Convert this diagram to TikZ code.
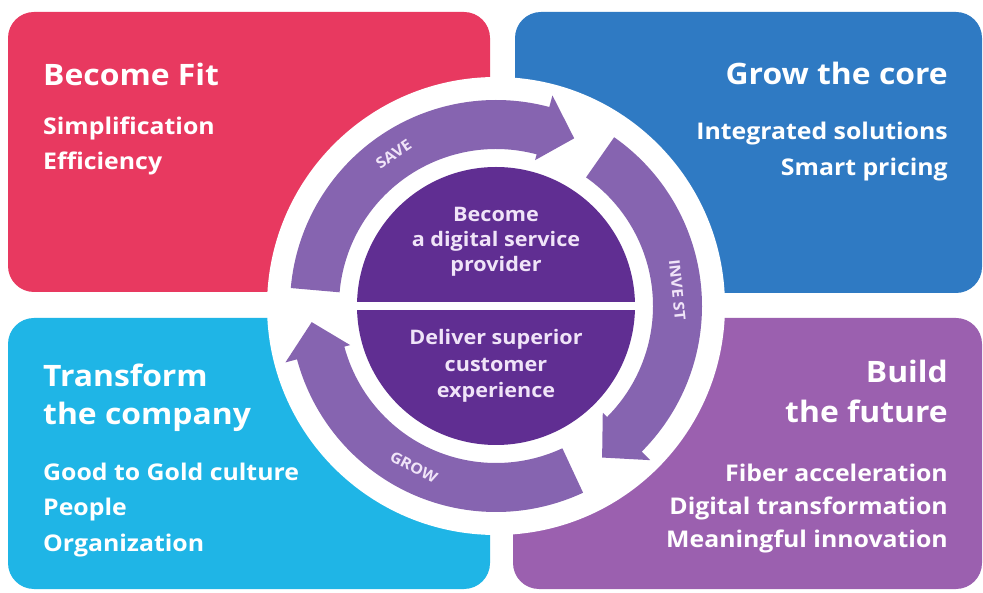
\documentclass[tikz,border=0pt]{standalone}
\usepackage{fontspec}
\setmainfont{Open Sans}[FakeStretch=1.08]
\definecolor{cred}{RGB}{232,57,96}
\definecolor{cblue}{RGB}{47,122,195}
\definecolor{ccyan}{RGB}{31,181,230}
\definecolor{cpurp}{RGB}{155,96,175}
\definecolor{carrow}{RGB}{134,100,176}
\definecolor{cdisc}{RGB}{96,46,146}
\definecolor{ctext}{RGB}{240,228,248}
\begin{document}
\begin{tikzpicture}[x=1pt,y=1pt,
  title/.style={font=\fontsize{29.5}{36}\selectfont\bfseries, text=white, inner sep=0pt},
  item/.style={font=\fontsize{23}{28}\selectfont\bfseries, text=white, inner sep=0pt},
  ctr/.style={font=\fontsize{20}{24}\selectfont\bfseries, text=ctext, inner sep=0pt, anchor=base},
  lbl/.style={font=\fontsize{15}{17}\selectfont\bfseries, text=ctext, inner sep=0pt},
  ring/.style={fill=carrow}]
\useasboundingbox (0,0) rectangle (983,592);
\fill[white] (0,0) rectangle (983,592);
% boxes
\fill[cred, rounded corners=26pt] (8,300) rectangle (490,580);
\fill[cblue, rounded corners=26pt] (515,299) rectangle (982,580);
\fill[ccyan, rounded corners=26pt] (8,3) rectangle (490,274);
\fill[cpurp, rounded corners=26pt] (513,3) rectangle (982,274);
% white circle and disc
\fill[white] (496,286) circle[radius=229];
\fill[cdisc] (496,286) circle[radius=139];
\fill[white] (352,282) rectangle (640,290);
% ring arrows
\begin{scope}[shift={(496,286)}]
\fill[ring] (175:206) arc[start angle=175,end angle=75,radius=206] -- (75:218) -- (65:185) -- (75:151) -- (75:157) arc[start angle=75,end angle=175,radius=157] -- cycle;
\fill[ring] (55:206) arc[start angle=55,end angle=-45,radius=206] -- (-45:218) -- (-55:185) -- (-45:151) -- (-45:157) arc[start angle=-45,end angle=55,radius=157] -- cycle;
\fill[ring] (-65:206) arc[start angle=-65,end angle=-165,radius=206] -- (-165:218) -- (-175:185) -- (-165:151) -- (-165:157) arc[start angle=-165,end angle=-65,radius=157] -- cycle;
\node[lbl, rotate=34] (save) at (124:183) {SAVE};
\node[lbl, rotate=-84] (invest) at (5:182) {INVE ST};
\node[lbl, rotate=-27] (grow) at (-117:181) {GROW};
\end{scope}
% centre text
\node[ctr] (c1) at (496,370) {Become};
\node[ctr] (c2) at (496,345) {a digital service};
\node[ctr] (c3) at (496,320) {provider};
\node[ctr] (c4) at (496,247) {Deliver superior};
\node[ctr] (c5) at (496,220) {customer};
\node[ctr] (c6) at (496,194) {experience};
% red box
\node[title, anchor=base west] (t1) at (43,506) {Become Fit};
\node[item, anchor=base west] (t1a) at (43,457) {Simplification};
\node[item, anchor=base west] (t1b) at (43,422) {Efficiency};
% blue box
\node[title, anchor=base east] (t2) at (948,507) {Grow the core};
\node[item, anchor=base east] (t2a) at (948,452) {Integrated solutions};
\node[item, anchor=base east] (t2b) at (948,416) {Smart pricing};
% cyan box
\node[title, anchor=base west] (t3) at (43,205) {Transform};
\node[title, anchor=base west] (t3b) at (43,167) {the company};
\node[item, anchor=base west] (t3c) at (43,111) {Good to Gold culture};
\node[item, anchor=base west] (t3d) at (43,76) {People};
\node[item, anchor=base west] (t3e) at (43,41) {Organization};
% purple box
\node[title, anchor=base east] (t4) at (948,209) {Build};
\node[title, anchor=base east] (t4b) at (948,169) {the future};
\node[item, anchor=base east] (t4c) at (948,110) {Fiber acceleration};
\node[item, anchor=base east] (t4d) at (948,77) {Digital transformation};
\node[item, anchor=base east] (t4e) at (948,44) {Meaningful innovation};
\end{tikzpicture}
\end{document}
